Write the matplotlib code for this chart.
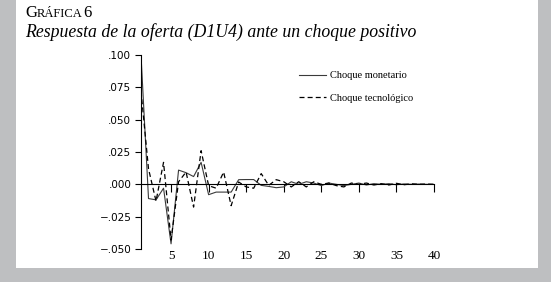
import numpy as np
import matplotlib
matplotlib.use("Agg")
import matplotlib.pyplot as plt
from matplotlib.patches import Rectangle

# periodos 1..40
periodos = np.arange(1, 41)

# respuesta a choque monetario (linea continua)
monetario = [0.100, -0.011, -0.012, -0.003, -0.046, 0.011, 0.009, 0.006, 0.017, -0.008,
             -0.006, -0.006, -0.006, 0.0036, 0.0037, 0.0037, -0.0008, -0.0016, -0.0026, -0.002,
             0.002, 0.000, 0.002, 0.001, -0.001, 0.001, 0.000, -0.001, 0.000, 0.001,
             -0.0005, 0.0005, 0.000, 0.0005, -0.0003, 0.0003, 0.000, 0.0002, 0.000, 0.000]

# respuesta a choque tecnologico (linea discontinua)
tecnologico = [0.072, 0.012, -0.013, 0.017, -0.043, 0.002, 0.0095, -0.0176, 0.026, -0.001,
               -0.003, 0.0095, -0.0165, 0.0018, -0.002, -0.003, 0.0083, -0.0008, 0.0036, 0.002,
               -0.002, 0.002, -0.002, 0.002, 0.000, 0.001, -0.001, -0.002, 0.001, 0.000,
               0.001, -0.0005, 0.0005, -0.0005, 0.0008, -0.0003, 0.0004, 0.000, 0.0002, 0.000]

yticks = [-0.050, -0.025, 0.000, 0.025, 0.050, 0.075, 0.100]
ylabels = ["\u2212.050", "\u2212.025", ".000", ".025", ".050", ".075", ".100"]
xticks = [5, 10, 15, 20, 25, 30, 35, 40]

W, H = 551, 282
fig = plt.figure(figsize=(W / 100, H / 100), dpi=100)
fig.patch.set_facecolor("#bebfc1")
fig.patches.append(Rectangle((16 / W, 14 / H), (538 - 16) / W, 1 - 14 / H,
                             transform=fig.transFigure, facecolor="white",
                             edgecolor="none", zorder=-10))

serif = "Liberation Serif"
fig.text(25 / W, 1 - 17 / H, "G", family=serif, fontsize=12, va="baseline")
fig.text(36.5 / W, 1 - 17 / H, "R\u00c1FICA", family=serif, fontsize=9, va="baseline")
fig.text(83 / W, 1 - 17 / H, "6", family=serif, fontsize=12, va="baseline")
fig.text(25 / W, 1 - 37 / H, "Respuesta de la oferta (D1U4) ante un choque positivo",
         family=serif, style="italic", fontsize=12.8, va="baseline")

ax = fig.add_axes([141 / W, 1 - 249 / H, (434 - 141) / W, (249 - 55) / H])
ax.patch.set_alpha(0)
ax.plot(periodos, monetario, color="#3a3a3a", lw=0.8, label="Choque monetario")
ax.plot(periodos, tecnologico, color="black", lw=0.9, dashes=(4, 2.5),
        label="Choque tecnol\u00f3gico")

ax.set_xlim(1, 40)
ax.set_ylim(-0.05, 0.1)
ax.spines["top"].set_visible(False)
ax.spines["right"].set_visible(False)
ax.spines["bottom"].set_position(("data", 0))
ax.spines["bottom"].set_linewidth(0.8)
ax.spines["left"].set_linewidth(0.8)

ax.set_xticks(xticks)
ax.set_xticklabels([str(t) for t in xticks], family=serif, fontsize=9.5)
ax.tick_params(axis="x", direction="out", length=6, width=0.8, pad=41)
ax.set_yticks(yticks)
ax.set_yticklabels(ylabels, family="DejaVu Sans", fontsize=7.5)
ax.tick_params(axis="y", direction="out", length=4, width=0.8, pad=3)

ax.legend(loc="upper left", bbox_to_anchor=(299 / W, 1 - 71 / H),
          bbox_transform=fig.transFigure, frameon=False,
          prop={"family": serif, "size": 7.5}, handlelength=2.6,
          handletextpad=0.4, labelspacing=1.3, borderpad=0, borderaxespad=0)

fig.savefig("out.png", dpi=100)
